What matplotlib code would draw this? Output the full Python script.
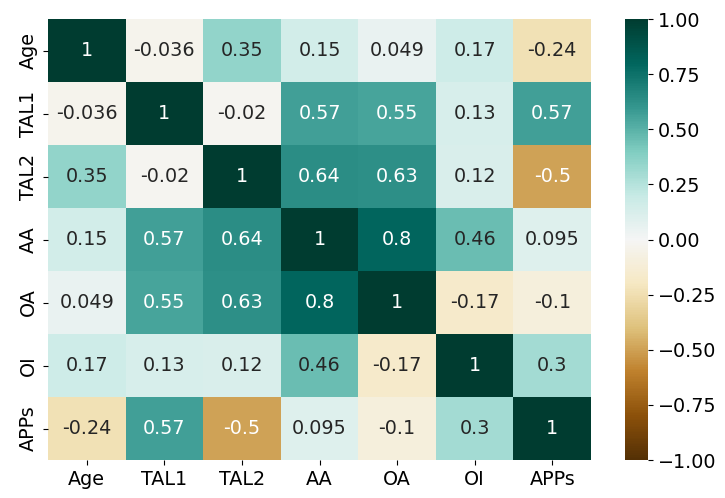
import numpy as np
import pandas as pd
import matplotlib
matplotlib.use("Agg")
import matplotlib.pyplot as plt
import seaborn as sns

LABELS = ["Age", "TAL1", "TAL2", "AA", "OA", "OI", "APPs"]

age = [1, -0.036, 0.35, 0.15, 0.049, 0.17, -0.24]
tal1 = [-0.036, 1, -0.02, 0.57, 0.55, 0.13, 0.57]
tal2 = [0.35, -0.02, 1, 0.64, 0.63, 0.12, -0.5]
aa = [0.15, 0.57, 0.64, 1, 0.8, 0.46, 0.095]
oa = [0.049, 0.55, 0.63, 0.8, 1, -0.17, -0.1]
oi = [0.17, 0.13, 0.12, 0.46, -0.17, 1, 0.3]
apps = [-0.24, 0.57, -0.5, 0.095, -0.1, 0.3, 1]

corr = pd.DataFrame([age, tal1, tal2, aa, oa, oi, apps], index=LABELS, columns=LABELS)

FS = 13.8
plt.rcParams["font.size"] = FS

fig = plt.figure(figsize=(7.25, 4.98), dpi=100)
ax = fig.add_axes([0.0662, 0.0763, 0.749, 0.8855])
cax = fig.add_axes([0.862, 0.0763, 0.0317, 0.8855])

sns.heatmap(corr, annot=True, cmap="BrBG", vmin=-1, vmax=1, ax=ax, cbar_ax=cax,
            annot_kws={"size": FS})

ax.tick_params(labelsize=FS)
cax.tick_params(labelsize=FS)

fig.savefig("out.png", dpi=100)
